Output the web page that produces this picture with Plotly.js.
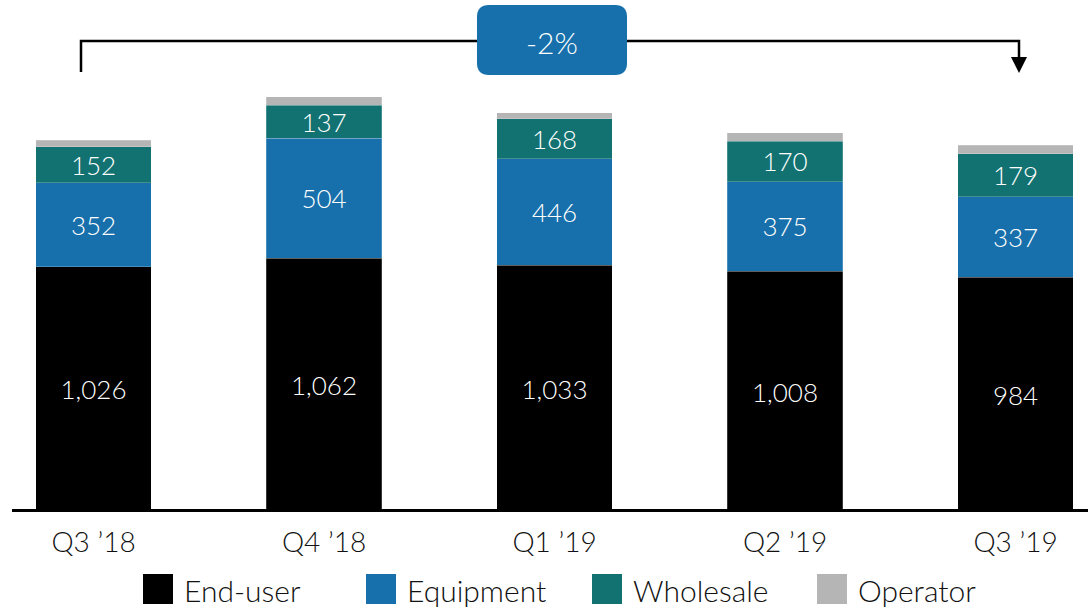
<!DOCTYPE html>
<html>
<head>
<meta charset="utf-8">
<script src="https://cdn.plot.ly/plotly-3.0.1.min.js"></script>
<style>
  html, body { margin: 0; padding: 0; background: #fff; }
  #plot { width: 1088px; height: 610px; }
</style>
</head>
<body>
<div id="plot"></div>
<script>
var quarters = ["Q3 \u201918", "Q4 \u201918", "Q1 \u201919", "Q2 \u201919", "Q3 \u201919"];
var endUser = [1026, 1062, 1033, 1008, 984];
var equipment = [352, 504, 446, 375, 337];
var wholesale = [152, 137, 168, 170, 179];
var operator = [26, 36, 25, 35, 36];

var seriesNames = ["End-user", "Equipment", "Wholesale", "Operator"];
var seriesColors = ["#000000", "#1770ab", "#127271", "#b5b5b5"];
var changeLabel = "-2%";

// plot area in pixels: left 12, right 1088, top 90, bottom 512
var L = 12, W = 1076, B = 512, H = 422;
function px(x) { return (x - L) / W; }
function py(y) { return (B - y) / H; }

var FONT = "Lato, 'Open Sans', sans-serif";

function makeBar(vals, i, showText) {
    return {
        x: quarters,
        y: vals,
        type: "bar",
        name: seriesNames[i],
        marker: { color: seriesColors[i], line: { color: "rgba(255,255,255,0.35)", width: 0.6 } },
        texttemplate: showText ? "%{y:,}" : "",
        textposition: showText ? "inside" : "none",
        insidetextanchor: "middle",
        constraintext: "none",
        textfont: { family: FONT, size: 26, color: "#ffffff", weight: 300 },
        hoverinfo: "x+y+name"
    };
}

var data = [
    makeBar(endUser, 0, true),
    makeBar(equipment, 1, true),
    makeBar(wholesale, 2, true),
    makeBar(operator, 3, false)
];

var shapes = [];
var annotations = [];

// baseline
shapes.push({
    type: "line", xref: "paper", yref: "y",
    x0: 0, x1: 1, y0: 0, y1: 0,
    line: { color: "#000", width: 6 }, layer: "above"
});

// bracket with arrow
shapes.push({
    type: "path", xref: "paper", yref: "paper",
    path: "M" + px(81) + "," + py(72) + " L" + px(81) + "," + py(41) +
          " L" + px(1019) + "," + py(41) + " L" + px(1019) + "," + py(60),
    line: { color: "#000", width: 2.5 }
});
shapes.push({
    type: "path", xref: "paper", yref: "paper",
    path: "M" + px(1011) + "," + py(57) + " L" + px(1027) + "," + py(57) +
          " L" + px(1019) + "," + py(73) + " Z",
    fillcolor: "#000", line: { color: "#000", width: 0 }
});

// rounded box for the change label
(function () {
    var x0 = 477, x1 = 627, y0 = 5, y1 = 75, r = 12;
    var p = "M" + px(x0 + r) + "," + py(y0) +
        " L" + px(x1 - r) + "," + py(y0) +
        " Q" + px(x1) + "," + py(y0) + " " + px(x1) + "," + py(y0 + r) +
        " L" + px(x1) + "," + py(y1 - r) +
        " Q" + px(x1) + "," + py(y1) + " " + px(x1 - r) + "," + py(y1) +
        " L" + px(x0 + r) + "," + py(y1) +
        " Q" + px(x0) + "," + py(y1) + " " + px(x0) + "," + py(y1 - r) +
        " L" + px(x0) + "," + py(y0 + r) +
        " Q" + px(x0) + "," + py(y0) + " " + px(x0 + r) + "," + py(y0) + " Z";
    shapes.push({
        type: "path", xref: "paper", yref: "paper", path: p,
        fillcolor: "#1770ab", line: { color: "#1770ab", width: 0 }
    });
})();

annotations.push({
    xref: "paper", yref: "paper", x: px(552), y: py(42),
    text: changeLabel, showarrow: false,
    xanchor: "center", yanchor: "middle",
    font: { family: FONT, size: 30, color: "#ffffff", weight: 300 }
});

// legend
var legendX = [143, 366, 592, 817];
for (var i = 0; i < seriesNames.length; i++) {
    shapes.push({
        type: "rect", xref: "paper", yref: "paper",
        x0: px(legendX[i]), x1: px(legendX[i] + 30),
        y0: py(574), y1: py(604),
        fillcolor: seriesColors[i], line: { width: 0 }
    });
    annotations.push({
        xref: "paper", yref: "paper",
        x: px(legendX[i] + 39), y: py(590),
        text: seriesNames[i], showarrow: false,
        xanchor: "left", yanchor: "middle",
        font: { family: FONT, size: 30, color: "#111111", weight: 300 }
    });
}

var layout = {
    width: 1088,
    height: 610,
    barmode: "stack",
    bargap: 0.5,
    showlegend: false,
    paper_bgcolor: "#ffffff",
    plot_bgcolor: "#ffffff",
    margin: { l: L, r: 0, t: 90, b: 98, pad: 0 },
    xaxis: {
        type: "category",
        range: [-0.3536, 4.3145],
        showline: false,
        showgrid: false,
        zeroline: false,
        ticks: "",
        ticklabelstandoff: 11,
        tickfont: { family: FONT, size: 28, color: "#111111", weight: 300 },
        fixedrange: true
    },
    yaxis: {
        range: [0, 1767],
        visible: false,
        showgrid: false,
        zeroline: false,
        fixedrange: true
    },
    shapes: shapes,
    annotations: annotations
};

Plotly.newPlot("plot", data, layout, { displayModeBar: false, staticPlot: true });
</script>
</body>
</html>
